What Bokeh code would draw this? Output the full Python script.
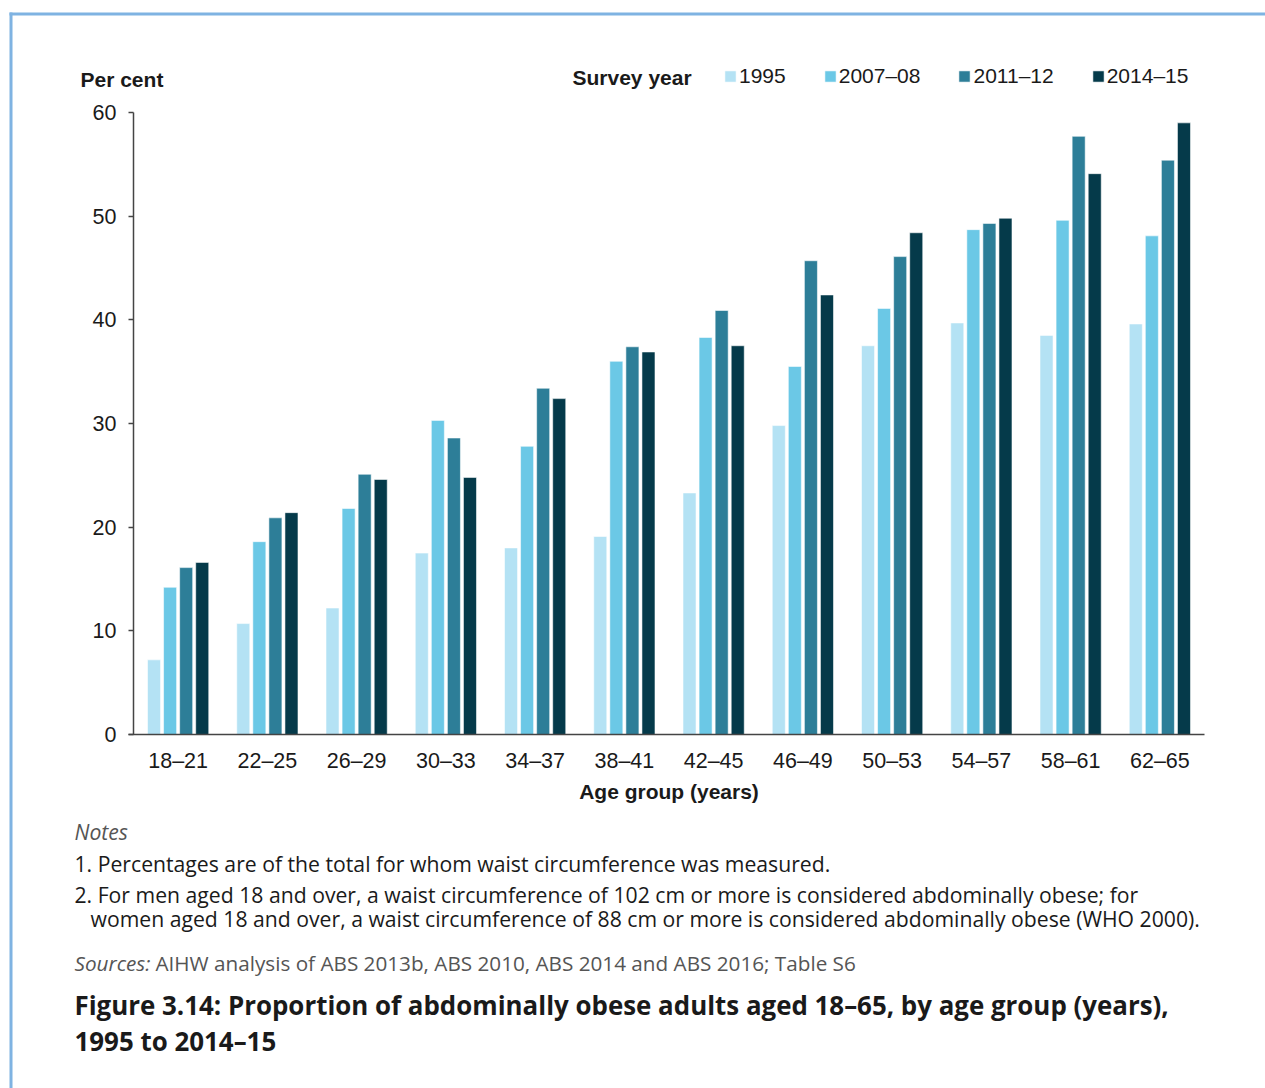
from bokeh.plotting import figure
from bokeh.models import (ColumnDataSource, Range1d, Label, Legend, LegendItem,
                          FixedTicker, LinearAxis, BoxAnnotation)
from bokeh.transform import dodge
from bokeh.embed import file_html
from bokeh.resources import INLINE

# ---- data ----
age_groups = ["18\u201321", "22\u201325", "26\u201329", "30\u201333", "34\u201337", "38\u201341",
              "42\u201345", "46\u201349", "50\u201353", "54\u201357", "58\u201361", "62\u201365"]
y1995 = [7.2, 10.7, 12.2, 17.5, 18.0, 19.1, 23.3, 29.8, 37.5, 39.7, 38.5, 39.6]
y2007 = [14.2, 18.6, 21.8, 30.3, 27.8, 36.0, 38.3, 35.5, 41.1, 48.7, 49.6, 48.1]
y2011 = [16.1, 20.9, 25.1, 28.6, 33.4, 37.4, 40.9, 45.7, 46.1, 49.3, 57.7, 55.4]
y2014 = [16.6, 21.4, 24.6, 24.8, 32.4, 36.9, 37.5, 42.4, 48.4, 49.8, 54.1, 59.0]
series_names = ["1995", "2007\u201308", "2011\u201312", "2014\u201315"]
series_cols = ["y1995", "y2007", "y2011", "y2014"]
colors = ["#b4e2f4", "#6bc8e6", "#2d7e98", "#053a4a"]
y_ticks = [0, 10, 20, 30, 40, 50, 60]

n = len(age_groups)
x_centers = [i + 0.5 for i in range(n)]
source = ColumnDataSource(dict(xc=x_centers, y1995=y1995, y2007=y2007,
                               y2011=y2011, y2014=y2014))

# ---- page geometry (pixels) ----
W, H = 1265, 1088
AX_L, AX_R, AX_B, AX_T = 133, 1204, 734, 112   # plot axes box on the page
GW = (AX_R - AX_L) / n          # px per age group
PU = (AX_B - AX_T) / 60.0       # px per percentage point

p = figure(x_range=Range1d(-AX_L / GW, (W - AX_L) / GW),
           y_range=Range1d(-(H - AX_B) / PU, AX_B / PU),
           width=W, height=H, output_backend="svg", toolbar_location=None,
           x_axis_location=None, y_axis_location=None,
           min_border=0, min_border_left=0, min_border_right=0,
           min_border_top=0, min_border_bottom=0)
p.outline_line_color = None
p.background_fill_color = "white"
p.border_fill_color = "white"
p.grid.visible = False
p.xgrid.grid_line_color = None
p.ygrid.grid_line_color = None

offsets = [-0.27, -0.09, 0.09, 0.27]
renderers = []
for col, off, c in zip(series_cols, offsets, colors):
    r = p.vbar(x=dodge("xc", off), top=col, width=0.146, source=source,
               fill_color=c, line_color="white", line_alpha=0.55, line_width=1)
    renderers.append(r)

AXIS_FONT = "Liberation Sans"
TXT = "#1a1a1a"

yaxis = LinearAxis(fixed_location=0, bounds=(0, 60), ticker=FixedTicker(ticks=y_ticks),
                   major_label_text_font=AXIS_FONT, major_label_text_font_size="21.5px",
                   major_label_text_color=TXT, major_tick_in=0, major_tick_out=5,
                   minor_tick_line_color=None, major_label_standoff=12,
                   axis_line_color="#444444", axis_line_width=1.5,
                   major_tick_line_color="#444444", major_tick_line_width=1.5)
p.add_layout(yaxis, "left")

xaxis = LinearAxis(fixed_location=0, bounds=(-5 / GW, n),
                   ticker=FixedTicker(ticks=x_centers),
                   major_label_overrides={x: g for x, g in zip(x_centers, age_groups)},
                   major_label_text_font=AXIS_FONT, major_label_text_font_size="21.5px",
                   major_label_text_color=TXT, major_tick_line_color=None,
                   minor_tick_line_color=None, major_label_standoff=8,
                   axis_line_color="#444444", axis_line_width=1.5)
p.add_layout(xaxis, "below")

# light blue frame lines (top and left)
BLUE = "#7fb3e2"
p.add_layout(BoxAnnotation(left=9, right=1265, top=H - 12, bottom=H - 15,
                           left_units="screen", right_units="screen",
                           top_units="screen", bottom_units="screen",
                           fill_color=BLUE, fill_alpha=1, line_color=None))
p.add_layout(BoxAnnotation(left=9, right=12, top=H - 12, bottom=0,
                           left_units="screen", right_units="screen",
                           top_units="screen", bottom_units="screen",
                           fill_color=BLUE, fill_alpha=1, line_color=None))


def lab(text, px, py, size="21px", font=AXIS_FONT, style="normal", color=TXT, align="left"):
    p.add_layout(Label(x=px, y=H - py, x_units="screen", y_units="screen",
                       text=text, text_font=font, text_font_size=size,
                       text_font_style=style, text_color=color,
                       text_baseline="middle", text_align=align))


lab("Per cent", 80, 79, style="bold")
lab("Survey year", 572, 77, style="bold")
lab("Age group (years)", (AX_L + AX_R) / 2, 791, style="bold", align="center")

legend = Legend(items=[LegendItem(label=s, renderers=[r]) for s, r in zip(series_names, renderers)],
                orientation="horizontal", location=(723, H - 77 - 11),
                label_text_font=AXIS_FONT, label_text_font_size="21px",
                label_text_color=TXT, glyph_width=14, glyph_height=14,
                label_standoff=2, spacing=37, padding=0, margin=0,
                border_line_color=None, background_fill_alpha=0,
                label_height=22)
p.add_layout(legend, "center")

NOTE_FONT = "Open Sans"
NS = "21.2px"
lab("Notes", 74, 831, size=NS, font=NOTE_FONT, style="italic", color="#555555")
lab("1. Percentages are of the total for whom waist circumference was measured.", 74, 863,
    size=NS, font=NOTE_FONT)
lab("2. For men aged 18 and over, a waist circumference of 102 cm or more is considered abdominally obese; for",
    74, 894, size=NS, font=NOTE_FONT)
lab("women aged 18 and over, a waist circumference of 88 cm or more is considered abdominally obese (WHO 2000).",
    90, 918, size=NS, font=NOTE_FONT)
lab("Sources:", 74, 962, size="20.7px", font=NOTE_FONT, style="italic", color="#555555")
lab("AIHW analysis of ABS 2013b, ABS 2010, ABS 2014 and ABS 2016; Table S6", 155, 962,
    size="20.7px", font=NOTE_FONT, color="#555555")
lab("Figure 3.14: Proportion of abdominally obese adults aged 18\u201365, by age group (years),",
    74, 1004, size="25.9px", font=NOTE_FONT, style="bold")
lab("1995 to 2014\u201315", 74, 1040, size="25.9px", font=NOTE_FONT, style="bold")

open("out.html", "w").write(file_html(p, INLINE))
